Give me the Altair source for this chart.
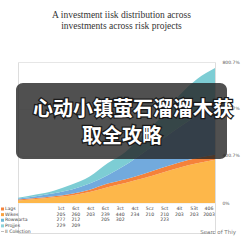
import altair as alt
import pandas as pd

# ---- data ----
periods = list(range(12))
s_orange = [14, 22, 32, 43, 62, 90, 114, 140, 170, 200, 225, 245]
s_darkorange = [6, 6, 6, 9, 13, 20, 21, 25, 28, 30, 30, 29]
s_blue = [5, 10, 17, 24, 35, 48, 80, 120, 160, 200, 240, 280]
s_teal = [5, 10, 15, 29, 40, 67, 75, 105, 130, 180, 209, 212]

series_names = ["Wikes", "Lags", "Rowwarta", "Projjes"]
series_colors = ["#FDB74A", "#F5823A", "#72AADD", "#7DCDD4"]

columns = ["1ct", "6ct", "4ct", "6ct", "3ct", "4ct", "5cz", "5ct", "4it", "53t", "406"]
row_names = ["Lags", "Wikes", "Rowwarta", "Projjes", "II Colection"]
row_wikes = ["205", "260", "203", "239", "440", "234", "210", "210", "203", "203", "2003"]
row_rowwarta = ["277", "212", "", "205", "302", "", "", "223", "", "", ""]
row_projjes = ["229", "209", "", "", "", "", "", "", "", "", ""]
row_colors = ["#F5823A", "#F9A23F", "#6DB8D6", "#8CD2DA", "#9A9A9A"]

tick_values = [0, 266.9, 533.8, 800]
tick_labels = ["0%", "400.7%", "600.7%", "800.7%"]

title_lines = ["A investment iisk distribution across", "investments across risk projects"]
overlay_lines = ["心动小镇萤石溜溜木获", "取全攻略"]
source_note = "Searc of Thiy"

# ---- tables ----
series_vals = [s_orange, s_darkorange, s_blue, s_teal]
area_rows = []
for k, (name, vals) in enumerate(zip(series_names, series_vals)):
    for i, v in zip(periods, vals):
        area_rows.append({"idx": i, "series": name, "value": v, "order": k})
area_df = pd.DataFrame(area_rows)

table_rows = []
for i, c in enumerate(columns):
    for rname, cells in zip(row_names[:4], [columns, row_wikes, row_rowwarta, row_projjes]):
        if cells[i]:
            table_rows.append({"col": i, "row": rname, "txt": cells[i]})
table_df = pd.DataFrame(table_rows)
rows_df = pd.DataFrame({"row": row_names,
                        "shape": ["square"] * 4 + ["M-1,-0.22L1,-0.22L1,0.22L-1,0.22Z"]})

label_expr = " : ".join(
    f"datum.value < {v + 1} ? '{lab}'" for v, lab in zip(tick_values[:-1], tick_labels[:-1])
) + f" : '{tick_labels[-1]}'"

one = pd.DataFrame({"a": [0]})

# ---- layers ----
area = alt.Chart(area_df).mark_area(interpolate="monotone").encode(
    x=alt.X("idx:Q", scale=alt.Scale(domain=[0, 11], nice=False, zero=False), axis=None),
    y=alt.Y("value:Q", stack="zero",
            scale=alt.Scale(domain=[0, 800], range=[141, 0], nice=False),
            axis=alt.Axis(orient="right", values=tick_values, labelExpr=label_expr,
                          grid=True, gridColor="#ececec", gridWidth=0.6,
                          domain=False, ticks=False, labelFontSize=4.5,
                          labelColor="#555", labelPadding=7, title=None,
                          labelFont="DejaVu Sans")),
    color=alt.Color("series:N", scale=alt.Scale(domain=series_names, range=series_colors), legend=None),
    order=alt.Order("order:Q"),
)

row_y = alt.Y("row:N", scale=alt.Scale(domain=row_names, range=[147, 169.5], padding=0), axis=None)

table = alt.Chart(table_df).mark_text(fontSize=4.6, font="DejaVu Sans", color="#444",
                                      baseline="middle", align="center").encode(
    x=alt.X("col:Q", scale=alt.Scale(domain=[0, 10], range=[43, 191], nice=False), axis=None),
    y=row_y,
    text="txt:N",
)

row_labels = alt.Chart(rows_df).mark_text(fontSize=4.6, font="DejaVu Sans", color="#444",
                                          baseline="middle", align="left").encode(
    x=alt.value(-13), y=row_y, text="row:N")

row_marks = alt.Chart(rows_df).mark_point(filled=True, opacity=1, size=9).encode(
    x=alt.value(-15.5), y=row_y,
    color=alt.Color("row:N", scale=alt.Scale(domain=row_names, range=row_colors), legend=None),
    shape=alt.Shape("shape:N", scale=None, legend=None),
)

source = alt.Chart(one).mark_text(text=source_note, fontSize=5.5, font="DejaVu Sans",
                                  color="#777", align="right", baseline="middle").encode(
    x=alt.value(218), y=alt.value(170))

overlay = alt.Chart(one).mark_rect(color="#242424", opacity=0.8, cornerRadius=7).encode(
    x=alt.value(-2), x2=alt.value(209), y=alt.value(21), y2=alt.value(97))

def big_text(txt, x, y, outline):
    if outline:
        m = alt.Chart(one).mark_text(text=txt, fontSize=20, font="Noto Sans CJK SC",
                                     fontWeight="bold", align="left", baseline="middle",
                                     fill="#1a1a1a", stroke="#1a1a1a", strokeWidth=2.5)
    else:
        m = alt.Chart(one).mark_text(text=txt, fontSize=20, font="Noto Sans CJK SC",
                                     fontWeight="bold", align="left", baseline="middle",
                                     fill="#ffffff")
    return m.encode(x=alt.value(x), y=alt.value(y))

texts = [
    big_text(overlay_lines[0], 15, 48, True),
    big_text(overlay_lines[1], 64, 75, True),
    big_text(overlay_lines[0], 15, 48, False),
    big_text(overlay_lines[1], 64, 75, False),
]

chart = alt.layer(area, table, row_labels, row_marks, source, overlay, *texts).resolve_scale(
    x="independent", y="independent", color="independent", shape="independent"
).properties(
    width=197, height=171,
    padding={"left": 18, "top": 62, "right": 28, "bottom": 10},
    autosize=alt.AutoSizeParams(type="none"),
    title=alt.Title(text=title_lines, font="Liberation Serif", fontSize=9.5,
                    fontWeight="normal", color="#333", anchor="middle",
                    frame="group", offset=29, lineHeight=11, dx=5),
).configure_view(stroke=None).configure(background="white")

chart.save("out.html", embed_options={"renderer": "svg", "actions": False})
